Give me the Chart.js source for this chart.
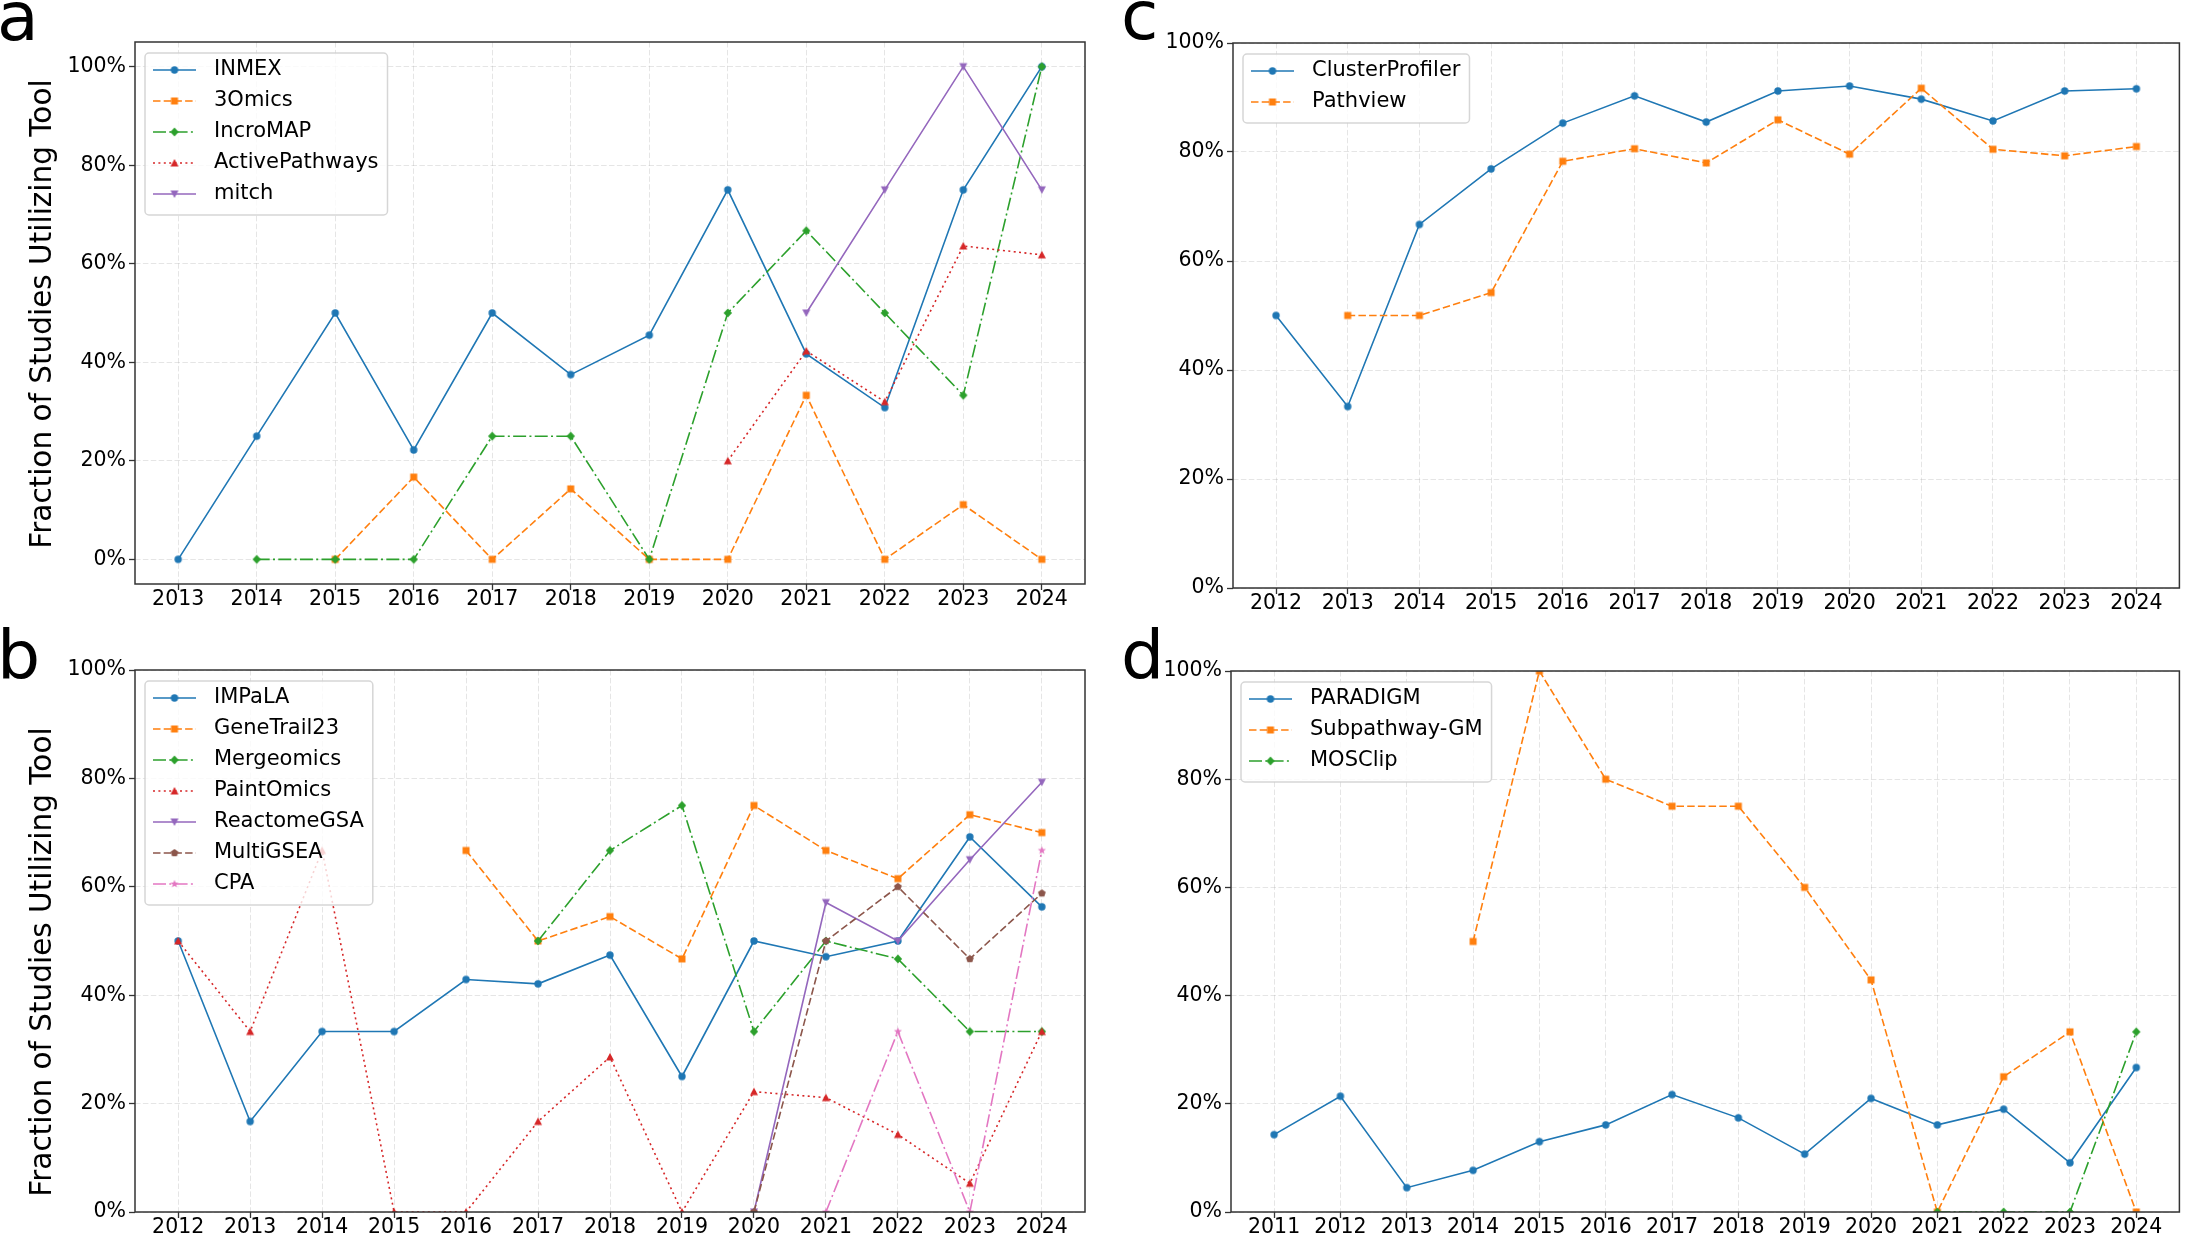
<!DOCTYPE html>
<html><head><meta charset="utf-8">
<script src="https://cdn.jsdelivr.net/npm/chart.js@4.4.1/dist/chart.umd.min.js"></script>
<style>
html,body{margin:0;padding:0;background:#fff}
body{width:2185px;height:1237px;position:relative;overflow:hidden;font-family:"DejaVu Sans",sans-serif}
canvas{position:absolute;left:0;top:0}
.lt{position:absolute;font-size:68px;line-height:68px;color:#000;font-family:"DejaVu Sans";z-index:5}
</style></head><body>
<canvas id="pa" width="2185" height="1237"></canvas>
<canvas id="pb" width="2185" height="1237"></canvas>
<canvas id="pc" width="2185" height="1237"></canvas>
<canvas id="pd" width="2185" height="1237"></canvas>
<div class="lt" style="left:-3px;top:-17px">a</div>
<div class="lt" style="left:-3px;top:622px">b</div>
<div class="lt" style="left:1121px;top:-18px">c</div>
<div class="lt" style="left:1121px;top:622px">d</div>
<script>
// ---------------- DATA ----------------
const yTickValues = [0, 20, 40, 60, 80, 100];

// Panel a
const yearsA = [2013,2014,2015,2016,2017,2018,2019,2020,2021,2022,2023,2024];
const namesA = ['INMEX','3Omics','IncroMAP','ActivePathways','mitch'];
const inmex          = [0, 25, 50, 22.2, 50, 37.5, 45.5, 75, 41.7, 30.8, 75, 100];
const omics3         = [null, null, 0, 16.7, 0, 14.3, 0, 0, 33.3, 0, 11.1, 0];
const incromap       = [null, 0, 0, 0, 25, 25, 0, 50, 66.7, 50, 33.3, 100];
const activePathways = [null, null, null, null, null, null, null, 20, 42.3, 32.0, 63.6, 61.8];
const mitch          = [null, null, null, null, null, null, null, null, 50, 75, 100, 75];

// Panel b
const yearsB = [2012,2013,2014,2015,2016,2017,2018,2019,2020,2021,2022,2023,2024];
const namesB = ['IMPaLA','GeneTrail23','Mergeomics','PaintOmics','ReactomeGSA','MultiGSEA','CPA'];
const impala      = [50, 16.7, 33.3, 33.3, 42.9, 42.1, 47.4, 25, 50, 47.1, 50, 69.2, 56.3];
const geneTrail23 = [null, null, null, null, 66.7, 50, 54.5, 46.7, 75, 66.7, 61.5, 73.3, 70];
const mergeomics  = [null, null, null, null, null, 50, 66.7, 75, 33.3, 50, 46.7, 33.3, 33.3];
const paintOmics  = [50, 33.3, 66.7, 0, 0, 16.7, 28.6, 0, 22.2, 21.1, 14.3, 5.3, 33.3];
const reactomeGSA = [null, null, null, null, null, null, null, null, 0, 57.1, 50, 65, 79.3];
const multiGSEA   = [null, null, null, null, null, null, null, null, 0, 50, 60, 46.7, 58.8];
const cpa         = [null, null, null, null, null, null, null, null, null, 0, 33.3, 0, 66.7];

// Panel c
const yearsC = [2012,2013,2014,2015,2016,2017,2018,2019,2020,2021,2022,2023,2024];
const namesC = ['ClusterProfiler','Pathview'];
const clusterProfiler = [50, 33.3, 66.7, 76.9, 85.3, 90.3, 85.5, 91.2, 92.1, 89.7, 85.7, 91.2, 91.6];
const pathview        = [null, 50, 50, 54.2, 78.3, 80.6, 78.0, 85.9, 79.6, 91.7, 80.5, 79.3, 81.0];

// Panel d
const yearsD = [2011,2012,2013,2014,2015,2016,2017,2018,2019,2020,2021,2022,2023,2024];
const namesD = ['PARADIGM','Subpathway-GM','MOSClip'];
const paradigm     = [14.3, 21.4, 4.5, 7.7, 13.0, 16.1, 21.7, 17.4, 10.7, 21.0, 16.1, 19.0, 9.1, 26.7];
const subpathwayGM = [null, null, null, 50, 100, 80, 75, 75, 60, 42.9, 0, 25, 33.3, 0];
const mosclip      = [null, null, null, null, null, null, null, null, null, null, 0, 0, 0, 33.3];

// ---------------- STYLE ----------------
const COLORS = ['#1f77b4','#ff7f0e','#2ca02c','#d62728','#9467bd','#8c564b','#e377c2'];
const LW = 1.6;
const DASH_SOLID = [], DASH_DASHED = [7.5, 3.2], DASH_DOT = [13, 3.3, 2, 3.3], DASH_DOTTED = [2, 3.4];
const DASHES = [DASH_SOLID, DASH_DASHED, DASH_DOT, DASH_DOTTED, DASH_SOLID, DASH_DASHED, DASH_DOT];
const MARKERS = ['o','s','D','^','v','p','*'];
const FONT = "'DejaVu Sans'";
Chart.defaults.font.family = FONT;

function markerCanvas(shape, color) {
  const S = 18, c = document.createElement('canvas'); c.width = S; c.height = S;
  const g = c.getContext('2d'); const cx = S/2, cy = S/2;
  g.fillStyle = color; g.beginPath();
  const poly = pts => { pts.forEach(([x,y],i)=> i ? g.lineTo(cx+x,cy+y) : g.moveTo(cx+x,cy+y)); g.closePath(); };
  if (shape === 'o') g.arc(cx, cy, 3.7, 0, Math.PI*2);
  else if (shape === 's') g.rect(cx-3.5, cy-3.5, 7, 7);
  else if (shape === 'D') poly([[0,-4.4],[4.2,0],[0,4.4],[-4.2,0]]);
  else if (shape === '^') poly([[0,-4],[4,3.6],[-4,3.6]]);
  else if (shape === 'v') poly([[0,4],[4,-3.6],[-4,-3.6]]);
  else if (shape === 'p') { const r = 4.1; poly([0,1,2,3,4].map(k => { const a = -Math.PI/2 + k*2*Math.PI/5; return [r*Math.cos(a), r*Math.sin(a)]; })); }
  else if (shape === '*') { const R = 4.3, r = 1.8; poly([...Array(10)].map((_,k) => { const a = -Math.PI/2 + k*Math.PI/5; const rr = k % 2 ? r : R; return [rr*Math.cos(a), rr*Math.sin(a)]; })); }
  g.fill();
  return c;
}

const framePlugin = {
  id: 'frame',
  afterDatasetsDraw(chart, args, opts) {
    const ctx = chart.ctx, a = chart.chartArea;
    ctx.save();
    ctx.strokeStyle = '#333'; ctx.lineWidth = 1.5; ctx.setLineDash([]);
    ctx.strokeRect(a.left, a.top, a.right - a.left, a.bottom - a.top);
    ctx.restore();
    // y-axis label
    if (opts && opts.ylabel) {
      ctx.save();
      ctx.font = '29.5px ' + FONT;
      ctx.fillStyle = '#000'; ctx.textAlign = 'center'; ctx.textBaseline = 'middle';
      ctx.translate(43.5, opts.ycenter); ctx.rotate(-Math.PI/2);
      ctx.fillText(opts.ylabel, 0, 0);
      ctx.restore();
    }
    // legend inside axes
    const ds = chart.data.datasets;
    ctx.save();
    ctx.font = '21px ' + FONT;
    const maxW = Math.max(...ds.map(d => ctx.measureText(d.label).width));
    const x0 = a.left + 10, y0 = a.top + 11;
    const w = 69 + maxW + 9, h = ds.length * 31 + 7;
    ctx.beginPath();
    ctx.roundRect(x0, y0, w, h, 4);
    ctx.fillStyle = 'rgba(255,255,255,0.8)'; ctx.fill();
    ctx.strokeStyle = 'rgba(204,204,204,0.8)'; ctx.lineWidth = 1.5; ctx.stroke();
    ds.forEach((d, i) => {
      const cy = y0 + 17 + i * 31;
      ctx.beginPath();
      ctx.strokeStyle = d.borderColor; ctx.lineWidth = d.borderWidth; ctx.setLineDash(d.borderDash);
      ctx.moveTo(x0 + 8, cy); ctx.lineTo(x0 + 51, cy); ctx.stroke();
      ctx.setLineDash([]);
      const m = d.pointStyle;
      ctx.drawImage(m, x0 + 29.5 - m.width/2, cy - m.height/2);
      ctx.fillStyle = '#000'; ctx.textBaseline = 'middle'; ctx.textAlign = 'left';
      ctx.fillText(d.label, x0 + 69, cy);
    });
    ctx.restore();
  }
};

function makeChart(id, o) {
  const datasets = o.values.map((vals, i) => ({
    label: o.names[i],
    data: o.years.map((yr, k) => ({ x: yr, y: vals[k] })),
    borderColor: COLORS[i],
    backgroundColor: COLORS[i],
    borderWidth: LW,
    borderDash: DASHES[i],
    pointStyle: markerCanvas(MARKERS[i], COLORS[i]),
    pointRadius: 4,
    pointHoverRadius: 4,
    tension: 0,
    spanGaps: false,
    order: -i
  }));
  const a = o.area;
  const xm = o.xmargin;
  const gridCol = 'rgba(160,160,160,0.28)';
  new Chart(document.getElementById(id), {
    type: 'line',
    data: { datasets },
    plugins: [framePlugin],
    options: {
      responsive: false, animation: false, devicePixelRatio: 1, events: [],
      layout: { padding: { left: a.L - o.yW, top: a.T, right: 2185 - a.R, bottom: 1237 - a.B - o.xH } },
      plugins: { legend: { display: false }, tooltip: { enabled: false },
                 frame: { ylabel: o.ytitle, ycenter: o.ycenter } },
      scales: {
        x: {
          type: 'linear', min: o.years[0] - xm, max: o.years[o.years.length - 1] + xm,
          afterBuildTicks: s => { s.ticks = o.years.map(v => ({ value: v })); },
          afterFit: s => { s.height = o.xH; },
          ticks: { autoSkip: false, maxRotation: 0, minRotation: 0, padding: -1, color: '#000',
                   font: { size: 20.5, lineHeight: 1 }, callback: v => String(v) },
          grid: { color: gridCol, lineWidth: 1, tickLength: 6, tickColor: '#333', tickWidth: 1.3, tickBorderDash: [] },
          border: { display: false, dash: [5.5, 2.4] }
        },
        y: {
          type: 'linear', min: o.ymin, max: o.ymax,
          afterBuildTicks: s => { s.ticks = yTickValues.map(v => ({ value: v })); },
          afterFit: s => { s.width = o.yW; },
          ticks: { padding: 3, color: '#000', font: { size: 20.5, lineHeight: 1 }, callback: v => v + '%' },
          grid: { color: gridCol, lineWidth: 1, tickLength: 6, tickColor: '#333', tickWidth: 1.3, tickBorderDash: [] },
          border: { display: false, dash: [5.5, 2.4] }
        }
      }
    }
  });
}

const YLABEL = 'Fraction of Studies Utilizing Tool';
makeChart('pa', { years: yearsA, names: namesA, values: [inmex, omics3, incromap, activePathways, mitch],
  area: { L: 135, T: 42, R: 1085, B: 584 }, yW: 135, xH: 40, ymin: -5, ymax: 105, xmargin: 0.55, ytitle: YLABEL, ycenter: 314 });
makeChart('pb', { years: yearsB, names: namesB, values: [impala, geneTrail23, mergeomics, paintOmics, reactomeGSA, multiGSEA, cpa],
  area: { L: 135, T: 670, R: 1085, B: 1212 }, yW: 135, xH: 25, ymin: 0, ymax: 100, xmargin: 0.6, ytitle: YLABEL, ycenter: 962 });
makeChart('pc', { years: yearsC, names: namesC, values: [clusterProfiler, pathview],
  area: { L: 1233, T: 43, R: 2182, B: 588 }, yW: 100, xH: 40, ymin: 0, ymax: 100, xmargin: 0.6, ytitle: null });
makeChart('pd', { years: yearsD, names: namesD, values: [paradigm, subpathwayGM, mosclip],
  area: { L: 1231, T: 671, R: 2182, B: 1212 }, yW: 100, xH: 25, ymin: 0, ymax: 100, xmargin: 0.65, ytitle: null });
</script>
</body></html>
